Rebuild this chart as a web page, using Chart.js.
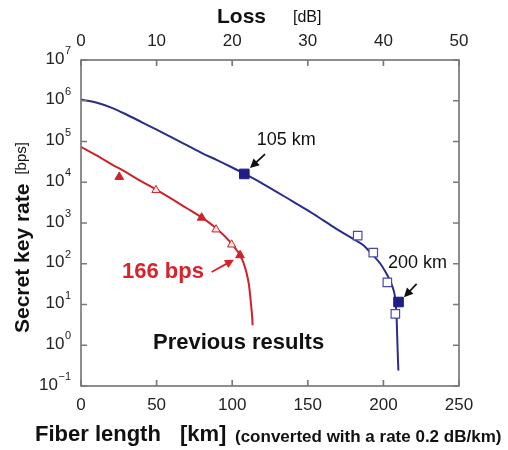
<!DOCTYPE html>
<html><head><meta charset="utf-8">
<script src="https://cdn.jsdelivr.net/npm/chart.js@4.4.0/dist/chart.umd.min.js"></script>
<style>html,body{margin:0;padding:0;background:#fff;}#wrap{width:508px;height:450px;position:relative;}</style>
</head><body><div id="wrap"><canvas id="c" width="508" height="450"></canvas></div>
<script>
const FAM = '"Liberation Sans", Arial, sans-serif';

// ---- data ----
const xTicksKm = [0, 50, 100, 150, 200, 250];
const xTicksLoss = [0, 10, 20, 30, 40, 50];
const yTickExps = [-1, 0, 1, 2, 3, 4, 5, 6, 7];

const blueCurveKm   = [0, 10, 20, 30, 40, 50, 60, 70, 80, 90, 100, 108, 120, 140, 150, 160, 170, 180, 187, 192, 198, 202, 204.4, 206.5, 207.7, 208.4, 208.8, 209.3, 209.9];
const blueCurveRate = [1.07e6, 9.1e5, 6.8e5, 4.6e5, 3.0e5, 1.95e5, 1.26e5, 8.1e4, 5.2e4, 3.5e4, 2.3e4, 1.62e4, 9300, 3400, 2040, 1180, 676, 407, 282, 178, 100, 57.5, 38.9, 24, 15.1, 7.9, 4.07, 1.0, 0.24];

const redCurveKm   = [0, 10, 20, 30, 40, 50, 60, 70, 80, 90, 100, 103, 105.2, 107.5, 109.6, 111, 111.8, 112.6, 113.2, 113.5];
const redCurveRate = [7.4e4, 4.6e4, 2.8e4, 1.74e4, 1.05e4, 6500, 3900, 2300, 1350, 710, 302, 214, 162, 105, 57.5, 31.6, 17.8, 8.9, 5.0, 3.1];

const blueFilledKm   = [108, 210];
const blueFilledRate = [1.6e4, 11.5];
const blueOpenKm     = [183, 193.3, 202.6, 207.9];
const blueOpenRate   = [490, 187, 35, 5.9];

const redFilledKm    = [25.3, 79.8, 105.2];
const redFilledRate  = [1.35e4, 1350, 162];
const redOpenKm      = [49.6, 89.3, 99.6];
const redOpenRate    = [6400, 692, 295];

// annotations (data coordinates)
const labels = [
  {text: '105 km', km: 116.2, rate: 1.07e5, color: '#111', font: '18px ' + FAM},
  {text: '200 km', km: 203, rate: 102, color: '#111', font: '18px ' + FAM},
  {text: '166 bps', km: 27.1, rate: 63, color: '#d8232a', font: 'bold 22px ' + FAM},
  {text: 'Previous results', km: 47.6, rate: 1.12, color: '#111', font: 'bold 22px ' + FAM}
];
const arrows = [
  {fromKm: 121.7, fromRate: 4.9e4, toKm: 111.8, toRate: 2.24e4, color: '#111'},
  {fromKm: 222, fromRate: 32, toKm: 213.6, toRate: 15.1, color: '#111'},
  {fromKm: 86.4, fromRate: 63, toKm: 101.2, toRate: 126, color: '#d8232a'}
];

const pts = (xs, ys) => xs.map((x, i) => ({x: x, y: ys[i]}));

const BLUE = '#2b2b8e';
const RED = '#cc2229';

function arrow(ctx, x1, y1, x2, y2, color) {
  const a = Math.atan2(y2 - y1, x2 - x1);
  const L = 9, W = 4.5;
  ctx.save();
  ctx.strokeStyle = color; ctx.fillStyle = color; ctx.lineWidth = 1.8;
  ctx.beginPath();
  ctx.moveTo(x1, y1);
  ctx.lineTo(x2 - Math.cos(a) * L * 0.8, y2 - Math.sin(a) * L * 0.8);
  ctx.stroke();
  ctx.beginPath();
  ctx.moveTo(x2, y2);
  ctx.lineTo(x2 - Math.cos(a) * L - Math.sin(a) * W, y2 - Math.sin(a) * L + Math.cos(a) * W);
  ctx.lineTo(x2 - Math.cos(a) * L + Math.sin(a) * W, y2 - Math.sin(a) * L - Math.cos(a) * W);
  ctx.closePath();
  ctx.fill();
  ctx.restore();
}

const decor = {
  id: 'decor',
  afterDatasetsDraw(chart) {
    const ctx = chart.ctx, a = chart.chartArea;
    const sx = chart.scales.x, sx2 = chart.scales.x2, sy = chart.scales.y;
    ctx.save();
    // frame
    ctx.strokeStyle = '#7a7a7a'; ctx.lineWidth = 1.7;
    ctx.strokeRect(a.left, a.top, a.right - a.left, a.bottom - a.top);
    // inward ticks
    const T = 6;
    ctx.beginPath();
    xTicksKm.forEach(v => { const p = sx.getPixelForValue(v); ctx.moveTo(p, a.bottom); ctx.lineTo(p, a.bottom - T); });
    xTicksLoss.forEach(v => { const p = sx2.getPixelForValue(v); ctx.moveTo(p, a.top); ctx.lineTo(p, a.top + T); });
    yTickExps.forEach(e => { const p = sy.getPixelForValue(Math.pow(10, e));
      ctx.moveTo(a.left, p); ctx.lineTo(a.left + T, p);
      ctx.moveTo(a.right, p); ctx.lineTo(a.right - T, p); });
    ctx.stroke();
    // y tick labels 10^k
    ctx.fillStyle = '#222';
    ctx.textBaseline = 'middle';
    yTickExps.forEach(e => {
      const p = sy.getPixelForValue(Math.pow(10, e));
      const ex = String(e).replace('-', '\u2212');
      ctx.font = '11px ' + FAM;
      const we = ctx.measureText(ex).width;
      const right = 71;
      ctx.textAlign = 'left';
      ctx.fillText(ex, right - we, p - 9);
      ctx.font = '17px ' + FAM;
      ctx.textAlign = 'right';
      ctx.fillText('10', right - we - 0.5, p - 1);
    });
    ctx.restore();
  },
  afterDraw(chart) {
    const ctx = chart.ctx;
    const sx = chart.scales.x, sy = chart.scales.y;
    ctx.save();
    labels.forEach(l => {
      ctx.font = l.font; ctx.fillStyle = l.color;
      ctx.textAlign = 'left'; ctx.textBaseline = 'middle';
      ctx.fillText(l.text, sx.getPixelForValue(l.km), sy.getPixelForValue(l.rate));
    });
    arrows.forEach(r => arrow(ctx, sx.getPixelForValue(r.fromKm), sy.getPixelForValue(r.fromRate),
      sx.getPixelForValue(r.toKm), sy.getPixelForValue(r.toRate), r.color));
    // axis titles
    ctx.fillStyle = '#111'; ctx.textBaseline = 'middle'; ctx.textAlign = 'left';
    ctx.font = 'bold 21px ' + FAM; ctx.fillText('Loss', 217, 17);
    ctx.font = '16px ' + FAM; ctx.fillText('[dB]', 293, 18);
    ctx.font = 'bold 22px ' + FAM; ctx.fillText('Fiber length', 35, 435);
    ctx.fillText('[km]', 180, 435);
    ctx.font = 'bold 17px ' + FAM; ctx.fillText('(converted with a rate 0.2 dB/km)', 235, 437, 272);
    ctx.save();
    ctx.translate(23, 333); ctx.rotate(-Math.PI / 2);
    ctx.font = 'bold 21px ' + FAM; ctx.fillText('Secret key rate', 0, 0);
    const w = ctx.measureText('Secret key rate').width;
    ctx.font = '15px ' + FAM; ctx.fillText('[bps]', w + 9, -1);
    ctx.restore();
    ctx.restore();
  }
};

new Chart(document.getElementById('c'), {
  type: 'scatter',
  data: {
    datasets: [
      {type: 'line', data: pts(blueCurveKm, blueCurveRate), borderColor: BLUE, borderWidth: 2, pointRadius: 0, cubicInterpolationMode: 'monotone', fill: false, order: 2},
      {type: 'line', data: pts(redCurveKm, redCurveRate), borderColor: RED, borderWidth: 2, pointRadius: 0, cubicInterpolationMode: 'monotone', fill: false, order: 2},
      {data: pts(blueOpenKm, blueOpenRate), pointStyle: 'rect', pointRadius: 6, backgroundColor: '#fff', borderColor: '#4a4aa6', borderWidth: 1.2, order: 1},
      {data: pts(blueFilledKm, blueFilledRate), pointStyle: 'rect', pointRadius: 6.8, backgroundColor: '#1f1f88', borderColor: '#1f1f88', borderWidth: 1, order: 0},
      {data: pts(redOpenKm, redOpenRate), pointStyle: 'triangle', pointRadius: 4.8, backgroundColor: '#fbe3e3', borderColor: RED, borderWidth: 1, order: 1},
      {data: pts(redFilledKm, redFilledRate), pointStyle: 'triangle', pointRadius: 5, backgroundColor: RED, borderColor: RED, borderWidth: 1, order: 0}
    ]
  },
  options: {
    responsive: false, animation: false, devicePixelRatio: 1,
    layout: {padding: {left: 0, right: 49, top: 0, bottom: 0}},
    plugins: {legend: {display: false}, tooltip: {enabled: false}},
    scales: {
      x: {type: 'linear', position: 'bottom', min: 0, max: 250,
        afterBuildTicks: s => { s.ticks = xTicksKm.map(v => ({value: v})); },
        afterFit: s => { s.height = 64; },
        ticks: {font: {size: 17, family: FAM}, color: '#222', padding: 9, maxRotation: 0},
        grid: {display: false, drawTicks: false}, border: {display: false}},
      x2: {type: 'linear', position: 'top', min: 0, max: 50,
        afterBuildTicks: s => { s.ticks = xTicksLoss.map(v => ({value: v})); },
        afterFit: s => { s.height = 60; },
        ticks: {font: {size: 17, family: FAM}, color: '#222', padding: 8, maxRotation: 0},
        grid: {display: false, drawTicks: false}, border: {display: false}},
      y: {type: 'logarithmic', min: 0.1, max: 1e7,
        afterFit: s => { s.width = 81; },
        ticks: {display: false}, grid: {display: false}, border: {display: false}}
    }
  },
  plugins: [decor]
});
</script></body></html>
